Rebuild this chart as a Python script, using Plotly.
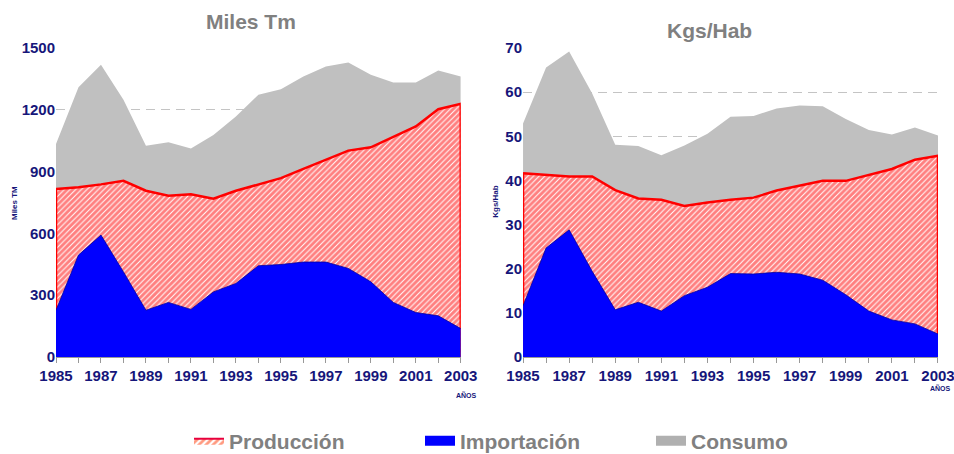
import plotly.graph_objects as go

years = list(range(1985, 2004))

# Left chart: Miles Tm
consumo_tm = [1034, 1310, 1419, 1249, 1025, 1043, 1012, 1078, 1167, 1273, 1300,
              1362, 1410, 1430, 1370, 1333, 1333, 1391, 1362]
produccion_tm = [816, 824, 838, 855, 807, 783, 790, 768, 807, 838, 868,
                 913, 957, 1002, 1018, 1070, 1119, 1203, 1229]
importacion_tm = [227, 495, 592, 413, 227, 265, 231, 316, 357, 443, 449,
                  461, 461, 430, 365, 265, 216, 200, 138]

# Right chart: Kgs/Hab
consumo_kg = [52.9, 65.6, 69.2, 59.7, 48.1, 47.8, 45.7, 47.9, 50.6, 54.4, 54.6,
              56.3, 57.0, 56.8, 53.9, 51.4, 50.4, 52.0, 50.2]
produccion_kg = [41.6, 41.2, 40.9, 40.9, 37.8, 35.9, 35.6, 34.2, 35.0, 35.6, 36.1,
                 37.7, 38.8, 39.9, 39.9, 41.3, 42.6, 44.7, 45.6]
importacion_kg = [11.6, 24.7, 28.8, 19.4, 10.7, 12.4, 10.4, 13.9, 15.8, 18.9, 18.8,
                  19.2, 18.8, 17.4, 14.1, 10.4, 8.4, 7.5, 5.2]

tick_text = [str(y) if (y - 1985) % 2 == 0 else "" for y in years]
left_ticks = [0, 300, 600, 900, 1200, 1500]
right_ticks = [0, 10, 20, 30, 40, 50, 60, 70]

NAVY = "#16167a"
GREY_TXT = "#808080"
FONT = "Liberation Sans"
NARROW = "Liberation Sans Narrow, Liberation Sans"
RED = "#FF0000"
BLUE = "#0000FF"
GREY = "#C0C0C0"

fig = go.Figure()

PATTERN = dict(shape="/", fgcolor=RED, bgcolor="white", size=4, solidity=0.75)


def add_set(xa, ya, cons, prod, imp):
    fig.add_trace(go.Scatter(
        x=years, y=cons, name="Consumo", fill="tozeroy", mode="lines",
        line=dict(width=0, color=GREY), fillcolor=GREY,
        xaxis=xa, yaxis=ya, showlegend=False, hoverinfo="skip"))
    poly_x = years + [years[-1], years[0], years[0]]
    poly_y = prod + [0, 0, prod[0]]
    fig.add_trace(go.Scatter(
        x=poly_x, y=poly_y, name="Producción", fill="toself", mode="lines",
        line=dict(width=2.5, color=RED), fillcolor="white",
        fillpattern=PATTERN,
        xaxis=xa, yaxis=ya, showlegend=False, hoverinfo="skip"))
    fig.add_trace(go.Scatter(
        x=years, y=imp, name="Importación", fill="tozeroy", mode="lines",
        line=dict(width=0.8, color="#0000A0"), fillcolor=BLUE,
        xaxis=xa, yaxis=ya, showlegend=False, hoverinfo="skip"))


add_set("x", "y", consumo_tm, produccion_tm, importacion_tm)
add_set("x2", "y2", consumo_kg, produccion_kg, importacion_kg)

# legend entries (no data drawn)
fig.add_trace(go.Scatter(x=[years[0]], y=[None], name="Producción", mode="lines",
                         fill="toself", fillcolor="white",
                         fillpattern=dict(shape="/", fgcolor="#FF3300", bgcolor="white",
                                          size=5, solidity=0.55),
                         line=dict(width=2, color="#E8003C"), legendrank=1, hoverinfo="skip"))
fig.add_trace(go.Scatter(x=[years[0]], y=[None], name="Importación", mode="lines",
                         line=dict(width=10, color=BLUE), legendrank=2, hoverinfo="skip"))
fig.add_trace(go.Scatter(x=[years[0]], y=[None], name="Consumo", mode="lines",
                         line=dict(width=10, color="#B0B0B0"), legendrank=3, hoverinfo="skip"))

W, H = 954, 454
ml, mr, mt, mb = 56, 15.5, 48, 97
pw = W - ml - mr
ph = H - mt - mb

xcommon = dict(range=[1985, 2003], tickmode="array", tickvals=years, ticktext=tick_text,
               ticks="outside", ticklen=5, tickcolor="#999999", showgrid=False,
               showline=True, linecolor="#999999", linewidth=1, automargin=False,
               ticklabeloverflow="allow",
               tickfont=dict(family=NARROW, size=15, color=NAVY, weight=700),
               zeroline=False)
ycommon = dict(showgrid=True, gridcolor="#C4C4C4", griddash="9px,6px", gridwidth=1,
               zeroline=False, showline=False, ticks="", automargin=False,
               tickfont=dict(family=NARROW, size=15, color=NAVY, weight=700))


def px_x(sx):
    return (sx - ml) / pw


def px_y(sy):
    return (H - sy - mb) / ph


ann = []


def add_text(text, sx, sy, size, color, angle=0):
    ann.append(dict(text=text, x=px_x(sx), y=px_y(sy), xref="paper", yref="paper",
                    xanchor="center", yanchor="middle", showarrow=False, textangle=angle,
                    font=dict(family=FONT, size=size, color=color, weight=700)))


add_text("Miles Tm", 251, 22, 21, GREY_TXT)
add_text("Kgs/Hab", 710, 30, 21, GREY_TXT)
add_text("AÑOS", 467, 395, 7, NAVY)
add_text("AÑOS", 941, 388, 7, NAVY)
add_text("Miles TM", 15, 203, 8, NAVY, -90)
add_text("Kgs/Hab", 495, 201, 8, NAVY, -90)

fig.update_layout(
    width=W, height=H,
    margin=dict(l=ml, r=mr, t=mt, b=mb, autoexpand=False),
    paper_bgcolor="white", plot_bgcolor="white",
    xaxis=dict(domain=[0, 405 / pw], anchor="y", **xcommon),
    xaxis2=dict(domain=[(523.3 - ml) / pw, 1.0], anchor="y2", **xcommon),
    yaxis=dict(domain=[0, 1], anchor="x", range=[0, 1500], tickvals=left_ticks, **ycommon),
    yaxis2=dict(domain=[0, 1], anchor="x2", range=[0, 70], tickvals=right_ticks, **ycommon),
    legend=dict(orientation="h", x=189 / W, xanchor="left", xref="container",
                y=(H - 441) / H, yanchor="middle", yref="container",
                font=dict(family=FONT, size=21, color=GREY_TXT, weight=700),
                entrywidth=186, entrywidthmode="pixels", traceorder="normal",
                itemsizing="trace", bgcolor="rgba(0,0,0,0)"),
    annotations=ann,
)

fig.write_html("out.html", config={"displayModeBar": False},
               post_script="document.body.style.margin='0';document.body.style.overflow='hidden';")
